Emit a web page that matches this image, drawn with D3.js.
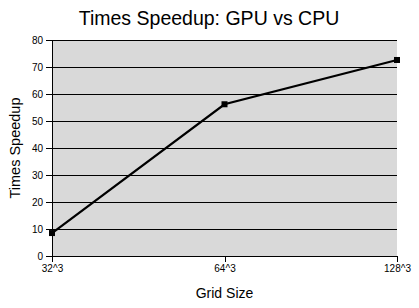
<!DOCTYPE html>
<html>
<head>
<meta charset="utf-8">
<script src="https://d3js.org/d3.v7.min.js"></script>
<style>
body { margin: 0; background: #fff; }
svg { display: block; font-family: "Liberation Sans", Arial, sans-serif; }
</style>
</head>
<body>
<div id="chart"></div>
<script>
// values
var gridSizes = ["32^3", "64^3", "128^3"];
var speedup = [8.5, 56.2, 72.6];
var yTicks = [0, 10, 20, 30, 40, 50, 60, 70, 80];

var width = 419, height = 308;
var margin = {top: 40, right: 22, bottom: 52, left: 52};

var svg = d3.select("#chart").append("svg")
    .attr("width", width).attr("height", height);

var x = d3.scalePoint()
    .domain(gridSizes)
    .range([margin.left, width - margin.right]);

var y = d3.scaleLinear()
    .domain([0, 80])
    .range([height - margin.bottom, margin.top]);

// plot background
svg.append("rect")
    .attr("x", margin.left)
    .attr("y", margin.top)
    .attr("width", width - margin.right - margin.left)
    .attr("height", height - margin.bottom - margin.top)
    .style("fill", "#d9d9d9");

// horizontal gridlines
svg.append("g")
    .selectAll("line")
    .data(yTicks.filter(d => d > 0))
    .join("line")
    .attr("x1", margin.left)
    .attr("x2", width - margin.right)
    .attr("y1", d => y(d))
    .attr("y2", d => y(d))
    .style("stroke", "#000")
    .style("stroke-width", 1)
    .attr("shape-rendering", "crispEdges");

var yAxis = svg.append("g")
    .attr("transform", `translate(${margin.left},0)`)
    .call(d3.axisLeft(y).tickValues(yTicks).tickSize(6).tickPadding(3));

var xAxis = svg.append("g")
    .attr("transform", `translate(0,${height - margin.bottom})`)
    .call(d3.axisBottom(x).tickSize(6).tickPadding(3));

[yAxis, xAxis].forEach(function (a) {
    a.select(".domain").attr("stroke", "#000").attr("shape-rendering", "crispEdges");
    a.selectAll(".tick line").attr("stroke", "#000").attr("shape-rendering", "crispEdges");
    a.selectAll("text")
        .style("font-size", "10px")
        .style("fill", "#000")
        .style("font-family", "'Liberation Sans', Arial, sans-serif");
});
// outer ticks of the domain path off
yAxis.select(".domain").attr("d", `M0,${y(0)}V${y(80)}`);
xAxis.select(".domain").attr("d", `M${x.range()[0]},0H${x.range()[1]}`);

var pts = gridSizes.map((g, i) => ({g: g, v: speedup[i]}));

svg.append("path")
    .datum(pts)
    .attr("d", d3.line().x(d => x(d.g)).y(d => y(d.v)))
    .style("fill", "none")
    .style("stroke", "#000")
    .style("stroke-width", 2.2);

svg.append("g")
    .selectAll("rect")
    .data(pts)
    .join("rect")
    .attr("x", d => x(d.g) - 3)
    .attr("y", d => y(d.v) - 3)
    .attr("width", 6)
    .attr("height", 6)
    .style("fill", "#000");

svg.append("text")
    .attr("x", 209)
    .attr("y", 25)
    .attr("text-anchor", "middle")
    .style("font-size", "19.5px")
    .text("Times Speedup: GPU vs CPU");

svg.append("text")
    .attr("x", (margin.left + width - margin.right) / 2)
    .attr("y", 298)
    .attr("text-anchor", "middle")
    .style("font-size", "14px")
    .text("Grid Size");

svg.append("text")
    .attr("transform", `translate(20,${(margin.top + height - margin.bottom) / 2}) rotate(-90)`)
    .attr("text-anchor", "middle")
    .style("font-size", "14.5px")
    .text("Times Speedup");
</script>
</body>
</html>
